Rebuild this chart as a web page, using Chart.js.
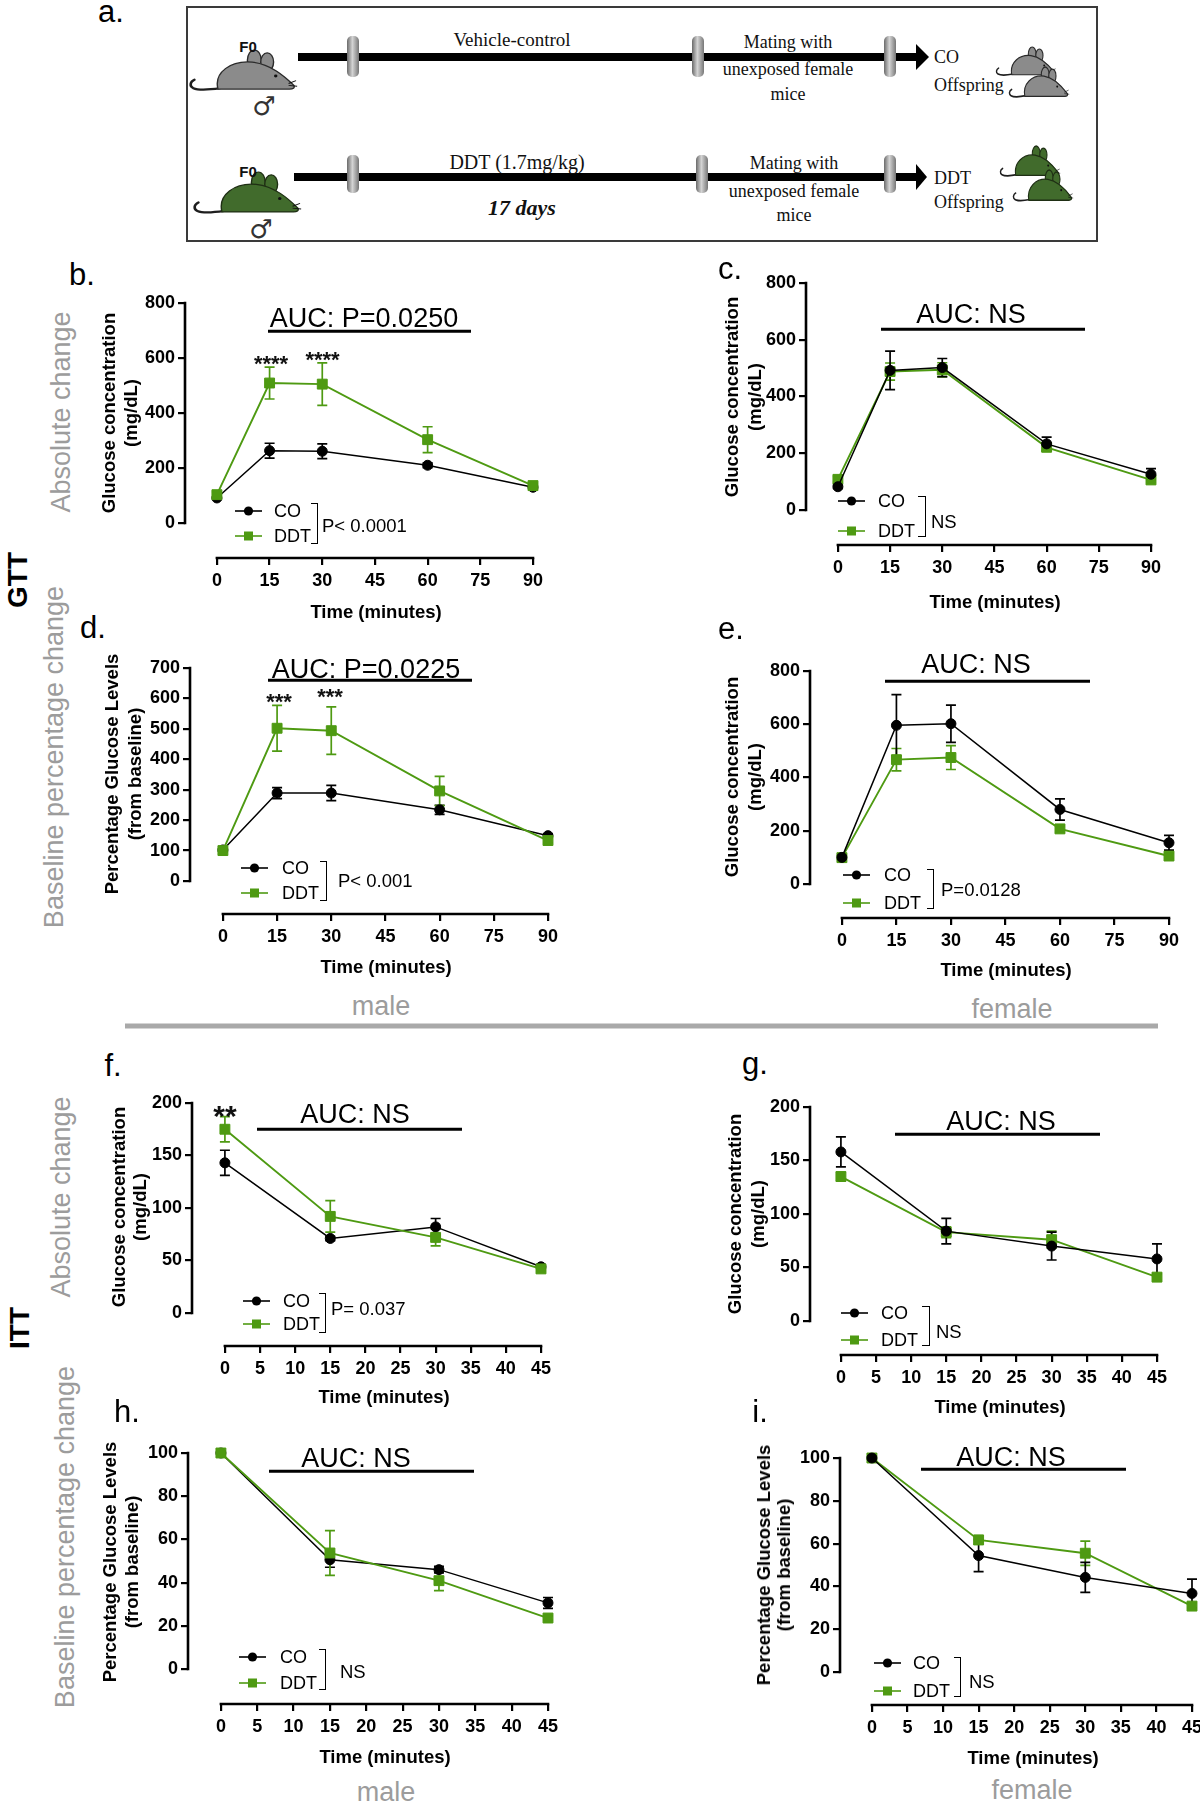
<!DOCTYPE html>
<html><head><meta charset="utf-8">
<script src="https://cdn.jsdelivr.net/npm/chart.js@4.4.1/dist/chart.umd.min.js"></script>
<style>
html,body{margin:0;padding:0;background:#fff;}
body{width:1200px;height:1802px;position:relative;overflow:hidden;font-family:"Liberation Sans",Arial,Helvetica,sans-serif;}
.t{position:absolute;white-space:nowrap;line-height:1;transform:translate(-50%,-50%);color:#000;}
.l{position:absolute;white-space:nowrap;line-height:1;transform:translate(0,-50%);color:#000;}
.r{position:absolute;white-space:nowrap;transform:translate(-50%,-50%) rotate(-90deg);text-align:center;}
canvas{position:absolute;}
</style></head><body>

<svg width="1200" height="250" style="position:absolute;left:0;top:0">
<defs>
<linearGradient id="mk" x1="0" x2="1" y1="0" y2="0">
<stop offset="0" stop-color="#6a6a6a"/><stop offset="0.45" stop-color="#d4d4d4"/><stop offset="1" stop-color="#777"/>
</linearGradient>
<g id="mouse">
<path d="M30 41 C18 43 9 43 5 41 C1 39 2 34 6 32" fill="none" stroke="#1e1e1e" stroke-width="2.4" stroke-linecap="round"/>
<ellipse cx="62" cy="11" rx="6.5" ry="11"/>
<ellipse cx="74" cy="13" rx="6" ry="10"/>
<path d="M28 42 C24 24 40 11 60 13 C77 15 90 28 99 38 C100 41 98 42 95 42 Z"/>
<circle cx="82" cy="28" r="1.6" fill="#111" stroke="none"/>
<path d="M94 36 L101 33 M94 38 L102 39" fill="none" stroke="#111" stroke-width="1"/>
</g>
</defs>
<rect x="187" y="7" width="910" height="234" fill="#fff" stroke="#3a3a3a" stroke-width="2"/>
<rect x="298" y="53" width="620" height="8" fill="#000"/>
<polygon points="916,44 929,57 916,70" fill="#000"/>
<rect x="294" y="173" width="624" height="8" fill="#000"/>
<polygon points="916,164 927,177 916,190" fill="#000"/>
<rect x="347" y="36" width="12" height="41" rx="5" fill="url(#mk)"/>
<rect x="692" y="36" width="12" height="41" rx="5" fill="url(#mk)"/>
<rect x="884" y="36" width="12" height="41" rx="5" fill="url(#mk)"/>
<rect x="347" y="155" width="12" height="38" rx="5" fill="url(#mk)"/>
<rect x="696" y="155" width="12" height="38" rx="5" fill="url(#mk)"/>
<rect x="884" y="155" width="12" height="38" rx="5" fill="url(#mk)"/>
<use href="#mouse" transform="translate(188,50) scale(1.07,0.93)" fill="#8b8b8b" stroke="#2a2a2a" stroke-width="1.3"/>
<use href="#mouse" transform="translate(192,172) scale(1.07,0.95)" fill="#416b2c" stroke="#1f2f14" stroke-width="1.3"/>
<use href="#mouse" transform="translate(995,47) scale(0.6,0.66)" fill="#8b8b8b" stroke="#2a2a2a" stroke-width="1.8"/>
<use href="#mouse" transform="translate(1008,67) scale(0.6,0.7)" fill="#8b8b8b" stroke="#2a2a2a" stroke-width="1.8"/>
<use href="#mouse" transform="translate(999,146) scale(0.6,0.7)" fill="#416b2c" stroke="#1f2f14" stroke-width="1.8"/>
<use href="#mouse" transform="translate(1012,170) scale(0.6,0.72)" fill="#416b2c" stroke="#1f2f14" stroke-width="1.8"/>
<g fill="#111" font-family="Liberation Serif, DejaVu Serif, serif">
<text x="512" y="46" font-size="19" text-anchor="middle">Vehicle-control</text>
<text x="788" y="48" font-size="18" text-anchor="middle">Mating with</text>
<text x="788" y="75" font-size="18" text-anchor="middle">unexposed female</text>
<text x="788" y="100" font-size="18" text-anchor="middle">mice</text>
<text x="934" y="63" font-size="18">CO</text>
<text x="934" y="91" font-size="18">Offspring</text>
<text x="517" y="169" font-size="20" text-anchor="middle">DDT (1.7mg/kg)</text>
<text x="522" y="215" font-size="22" text-anchor="middle" font-weight="bold" font-style="italic">17 days</text>
<text x="794" y="169" font-size="18" text-anchor="middle">Mating with</text>
<text x="794" y="197" font-size="18" text-anchor="middle">unexposed female</text>
<text x="794" y="221" font-size="18" text-anchor="middle">mice</text>
<text x="934" y="184" font-size="18">DDT</text>
<text x="934" y="208" font-size="18">Offspring</text>
</g>
<g font-family="Liberation Sans, Arial, sans-serif" fill="#111">
<text x="248" y="52" font-size="15" text-anchor="middle" font-weight="bold">F0</text>
<text x="248" y="177" font-size="15" text-anchor="middle" font-weight="bold">F0</text>
</g>
<g font-family="DejaVu Sans, sans-serif" fill="#333">
<text x="264" y="115" font-size="26" text-anchor="middle">♂</text>
<text x="261" y="238" font-size="26" text-anchor="middle">♂</text>
</g>
</svg>

<script>
// ---------------- DATA ----------------
const GTT_MINUTES = [0, 15, 30, 60, 90];
const ITT_MINUTES = [0, 15, 30, 45];
const GTT_X_TICKS = [0, 15, 30, 45, 60, 75, 90];
const ITT_X_TICKS = [0, 5, 10, 15, 20, 25, 30, 35, 40, 45];
const Y_TICKS_800 = [0, 200, 400, 600, 800];
const Y_TICKS_700 = [0, 100, 200, 300, 400, 500, 600, 700];
const Y_TICKS_200 = [0, 50, 100, 150, 200];
const Y_TICKS_100 = [0, 20, 40, 60, 80, 100];

// b. GTT male, absolute
const B_CO = [91, 263, 261, 210, 130];
const B_CO_SEM = [5, 27, 27, 9, 7];
const B_DDT = [103, 509, 505, 303, 136];
const B_DDT_SEM = [10, 58, 77, 47, 8];
// c. GTT female, absolute
const C_CO = [82, 492, 502, 233, 126];
const C_CO_SEM = [6, 68, 32, 24, 20];
const C_DDT = [108, 488, 494, 221, 106];
const C_DDT_SEM = [10, 30, 25, 13, 8];
// d. GTT male, % of baseline
const D_CO = [102, 289, 289, 234, 149];
const D_CO_SEM = [4, 18, 25, 15, 6];
const D_DDT = [100, 502, 494, 296, 133];
const D_DDT_SEM = [3, 75, 78, 48, 8];
// e. GTT female
const E_CO = [100, 596, 602, 280, 155];
const E_CO_SEM = [8, 115, 70, 40, 28];
const E_DDT = [99, 467, 475, 207, 105];
const E_DDT_SEM = [6, 42, 45, 12, 10];
// f. ITT male, absolute
const F_CO = [143, 71, 82, 44];
const F_CO_SEM = [12, 2, 8, 2];
const F_DDT = [175, 92, 72, 42];
const F_DDT_SEM = [12, 15, 8, 2];
// g. ITT female, absolute
const G_CO = [158, 84, 70, 58];
const G_CO_SEM = [14, 12, 13, 14];
const G_DDT = [135, 83, 76, 41];
const G_DDT_SEM = [4, 5, 8, 3];
// h. ITT male, % of baseline
const H_CO = [100, 50.6, 46, 30.6];
const H_CO_SEM = [0, 3.5, 1.5, 2.5];
const H_DDT = [100, 53.7, 40.9, 23.6];
const H_DDT_SEM = [0, 10.4, 4.6, 1];
// i. ITT female, % of baseline
const I_CO = [100, 54.4, 44.2, 36.7];
const I_CO_SEM = [0.5, 7.5, 7, 6.7];
const I_DDT = [100, 61.7, 55.5, 30.8];
const I_DDT_SEM = [0.5, 2, 5.7, 1.5];

const SERIES_NAMES = ['CO', 'DDT'];
const GREEN = '#4e9a12';

// ---------------- LAYOUT ----------------
// box: [yAxisX, x0px, xMaxPx, yTopPx, y0px, xAxisY]
const PANELS = [
  {x: GTT_MINUTES, xt: GTT_X_TICKS, yt: Y_TICKS_800, co: B_CO, coE: B_CO_SEM, ddt: B_DDT, ddtE: B_DDT_SEM, coTop: false, box: [185, 217, 534, 303, 523, 558]},
  {x: GTT_MINUTES, xt: GTT_X_TICKS, yt: Y_TICKS_800, co: C_CO, coE: C_CO_SEM, ddt: C_DDT, ddtE: C_DDT_SEM, coTop: true, box: [806, 838, 1152, 283, 510, 545]},
  {x: GTT_MINUTES, xt: GTT_X_TICKS, yt: Y_TICKS_700, co: D_CO, coE: D_CO_SEM, ddt: D_DDT, ddtE: D_DDT_SEM, coTop: false, box: [190, 223, 549, 668, 881, 914]},
  {x: GTT_MINUTES, xt: GTT_X_TICKS, yt: Y_TICKS_800, co: E_CO, coE: E_CO_SEM, ddt: E_DDT, ddtE: E_DDT_SEM, coTop: true, box: [810, 842, 1170, 671, 884, 918]},
  {x: ITT_MINUTES, xt: ITT_X_TICKS, yt: Y_TICKS_200, co: F_CO, coE: F_CO_SEM, ddt: F_DDT, ddtE: F_DDT_SEM, coTop: false, box: [192, 225, 542, 1103, 1313, 1346]},
  {x: ITT_MINUTES, xt: ITT_X_TICKS, yt: Y_TICKS_200, co: G_CO, coE: G_CO_SEM, ddt: G_DDT, ddtE: G_DDT_SEM, coTop: true, box: [810, 841, 1158, 1107, 1321, 1355]},
  {x: ITT_MINUTES, xt: ITT_X_TICKS, yt: Y_TICKS_100, co: H_CO, coE: H_CO_SEM, ddt: H_DDT, ddtE: H_DDT_SEM, coTop: false, box: [188, 221, 549, 1453, 1669, 1704]},
  {x: ITT_MINUTES, xt: ITT_X_TICKS, yt: Y_TICKS_100, co: I_CO, coE: I_CO_SEM, ddt: I_DDT, ddtE: I_DDT_SEM, coTop: true, box: [840, 872, 1193, 1458, 1672, 1705]}
];

Chart.defaults.font.family = '"Liberation Sans", Arial, Helvetica, sans-serif';
Chart.defaults.color = '#000';

const errorBars = {
  id: 'errorBars',
  beforeDatasetsDraw(chart) {
    const {ctx} = chart, xs = chart.scales.x, ys = chart.scales.y;
    const metas = chart.getSortedVisibleDatasetMetas().slice().reverse();
    metas.forEach(meta => {
      const ds = chart.data.datasets[meta.index];
      if (!ds.errors) return;
      ctx.save();
      ctx.strokeStyle = ds.borderColor;
      ctx.lineWidth = 1.7;
      ds.data.forEach((p, j) => {
        const e = ds.errors[j];
        if (!e) return;
        const px = xs.getPixelForValue(p.x);
        const t = ys.getPixelForValue(p.y + e), b = ys.getPixelForValue(p.y - e);
        ctx.beginPath();
        ctx.moveTo(px, t); ctx.lineTo(px, b);
        ctx.moveTo(px - 5, t); ctx.lineTo(px + 5, t);
        ctx.moveTo(px - 5, b); ctx.lineTo(px + 5, b);
        ctx.stroke();
      });
      ctx.restore();
    });
  }
};

const axisLines = {
  id: 'axisLines',
  afterDraw(chart) {
    const {ctx, chartArea} = chart, xs = chart.scales.x, ys = chart.scales.y;
    ctx.save();
    ctx.strokeStyle = '#000';
    ctx.lineWidth = 2.6;
    ctx.lineCap = 'square';
    ctx.beginPath();
    ctx.moveTo(chartArea.left, ys.getPixelForValue(0));
    ctx.lineTo(chartArea.left, ys.getPixelForValue(ys.max));
    ctx.moveTo(xs.getPixelForValue(0), chartArea.bottom);
    ctx.lineTo(xs.getPixelForValue(xs.max), chartArea.bottom);
    ctx.stroke();
    ctx.restore();
  }
};

function xy(xArr, yArr) { return xArr.map((v, i) => ({x: v, y: yArr[i]})); }

function makeChart(p) {
  const [ax, x0, x1, yTop, y0, xb] = p.box;
  const W = 50, H = 40, P = 14;
  const cw = (x1 - ax) + W + 2 * P, ch = (xb - yTop) + H + 2 * P;
  const cv = document.createElement('canvas');
  cv.width = cw; cv.height = ch;
  cv.style.left = (ax - W - P) + 'px';
  cv.style.top = (yTop - P) + 'px';
  cv.style.width = cw + 'px'; cv.style.height = ch + 'px';
  document.body.appendChild(cv);
  const xMax = p.xt[p.xt.length - 1], yMax = p.yt[p.yt.length - 1];
  const a = (x0 - ax) / (x1 - ax), xMin = -a * xMax / (1 - a);
  const b = (xb - y0) / (xb - yTop), yMin = -b * yMax / (1 - b);
  const grid = {drawOnChartArea: false, drawTicks: true, tickLength: 7, color: '#000', lineWidth: 2.2};
  const tickFont = {size: 18, weight: 'bold', lineHeight: 1.2};
  new Chart(cv, {
    type: 'line',
    data: {
      datasets: [
        {label: SERIES_NAMES[0], data: xy(p.x, p.co), errors: p.coE, borderColor: '#000', backgroundColor: '#000',
         borderWidth: 1.5, pointStyle: 'circle', pointRadius: 5, pointBorderWidth: 1, tension: 0, clip: false, order: p.coTop ? 0 : 1},
        {label: SERIES_NAMES[1], data: xy(p.x, p.ddt), errors: p.ddtE, borderColor: GREEN, backgroundColor: GREEN,
         borderWidth: 1.9, pointStyle: 'rect', pointRadius: 7, pointBorderWidth: 1, tension: 0, clip: false, order: p.coTop ? 1 : 0}
      ]
    },
    options: {
      responsive: false, animation: false, events: [],
      layout: {autoPadding: false, padding: P},
      plugins: {legend: {display: false}, tooltip: {enabled: false}},
      scales: {
        x: {type: 'linear', position: 'bottom', min: xMin, max: xMax,
            afterBuildTicks: s => { s.ticks = p.xt.map(v => ({value: v})); },
            afterFit: s => { s.height = H; },
            border: {display: false}, grid: grid,
            ticks: {autoSkip: false, maxRotation: 0, minRotation: 0, padding: 5, color: '#000', font: tickFont}},
        y: {type: 'linear', position: 'left', min: yMin, max: yMax,
            afterBuildTicks: s => { s.ticks = p.yt.map(v => ({value: v})); },
            afterFit: s => { s.width = W; },
            border: {display: false}, grid: grid,
            ticks: {autoSkip: false, padding: 3, color: '#000', font: tickFont}}
      }
    },
    plugins: [errorBars, axisLines]
  });
}
PANELS.forEach(makeChart);

// ---------------- TEXT OVERLAYS ----------------
function el(cls, html, x, y, style) {
  const d = document.createElement('div');
  d.className = cls; d.innerHTML = html;
  d.style.left = x + 'px'; d.style.top = y + 'px';
  if (style) d.style.cssText += style;
  document.body.appendChild(d);
  return d;
}
const GRAY = '#9c9c9c';
// panel letters
[['a.', 111, 11], ['b.', 82, 274], ['c.', 730, 268], ['d.', 93, 627], ['e.', 731, 628],
 ['f.', 113, 1065], ['g.', 755, 1063], ['h.', 127, 1411], ['i.', 760, 1411]]
  .forEach(([t, x, y]) => el('t', t, x, y, 'font-size:31px;'));
// GTT / ITT
el('r', 'GTT', 18, 580, 'font-size:28px;font-weight:bold;line-height:1;');
el('r', 'ITT', 20, 1328, 'font-size:28px;font-weight:bold;line-height:1;');
// gray side / bottom labels
[['Absolute change', 61, 412], ['Baseline percentage change', 54, 757],
 ['Absolute change', 61, 1197], ['Baseline percentage change', 65, 1537]]
  .forEach(([t, x, y]) => el('r', t, x, y, 'font-size:27px;line-height:1;color:' + GRAY + ';'));
[['male', 381, 1006], ['female', 1012, 1009], ['male', 386, 1792], ['female', 1032, 1790]]
  .forEach(([t, x, y]) => el('t', t, x, y, 'font-size:27px;color:' + GRAY + ';'));
// separator
el('l', '', 125, 1026, 'width:1033px;height:5px;background:#a9a9a9;');

// y axis titles
const YT_ABS = 'Glucose concentration<br>(mg/dL)';
const YT_PCT = 'Percentage Glucose Levels<br>(from baseline)';
[[YT_ABS, 120, 413, 22], [YT_ABS, 742.5, 397, 23], [YT_PCT, 123, 774, 22.5], [YT_ABS, 742.5, 777, 23],
 [YT_ABS, 128.5, 1207, 21], [YT_ABS, 745.5, 1214, 23], [YT_PCT, 120, 1562, 21.5], [YT_PCT, 774, 1565, 20]]
  .forEach(([t, x, y, lh]) => el('r', t, x, y, 'font-size:18.5px;font-weight:bold;line-height:' + lh + 'px;'));
// x axis titles
[[376, 612], [995, 602], [386, 967], [1006, 970], [384, 1397], [1000, 1407], [385, 1757], [1033, 1758]]
  .forEach(([x, y]) => el('t', 'Time (minutes)', x, y, 'font-size:18.5px;font-weight:bold;'));

// AUC annotations [text, cx, cy, lineX1, lineX2, lineY]
[['AUC: P=0.0250', 364, 318, 268, 471, 331], ['AUC: NS', 971, 314, 881, 1085, 329],
 ['AUC: P=0.0225', 366, 669, 268, 472, 680], ['AUC: NS', 976, 664, 885, 1090, 681],
 ['AUC: NS', 355, 1114, 257, 462, 1129], ['AUC: NS', 1001, 1121, 895, 1100, 1134],
 ['AUC: NS', 356, 1458, 269, 474, 1471], ['AUC: NS', 1011, 1457, 921, 1126, 1469]]
  .forEach(([t, cx, cy, lx1, lx2, ly]) => {
    el('t', t, cx, cy, 'font-size:27px;');
    el('l', '', lx1, ly, 'width:' + (lx2 - lx1) + 'px;height:2.5px;background:#000;');
  });
// significance stars
[['****', 271, 364, 22], ['****', 322.5, 360, 22], ['***', 279, 702, 22], ['***', 330, 697, 22], ['**', 225, 1116, 30]]
  .forEach(([t, x, y, fs]) => el('t', t, x, y, 'font-size:' + fs + 'px;font-weight:bold;color:#111;'));

// legends [symLeft, textLeft, yCO, yDDT, bracketX, bTop, bBottom, tickLeft, stat, statX, statY]
function symbol(color, shape) {
  const m = shape === 'circle' ? '<circle cx="13.5" cy="7" r="4.6" fill="' + color + '"/>'
                               : '<rect x="9" y="2.5" width="9" height="9" fill="' + color + '"/>';
  return '<svg width="27" height="14" style="display:block"><line x1="0" y1="7" x2="27" y2="7" stroke="' + color + '" stroke-width="1.6"/>' + m + '</svg>';
}
[[235, 274, 511, 536, 318, 503, 544, 311, 'P&lt; 0.0001', 322, 526],
 [838, 878, 501, 531, 926, 496, 537, 918, 'NS', 931, 522],
 [241, 282, 868, 893, 327, 861, 901, 320, 'P&lt; 0.001', 338, 881],
 [843, 884, 875, 903, 934, 869, 909, 927, 'P=0.0128', 941, 890],
 [243, 283, 1301, 1324, 326, 1293, 1333, 319, 'P= 0.037', 331, 1309],
 [841, 881, 1313, 1340, 930, 1306, 1346, 922, 'NS', 936, 1332],
 [239, 280, 1657, 1683, 326, 1649, 1690, 319, 'NS', 340, 1672],
 [874, 913, 1663, 1691, 961, 1657, 1697, 954, 'NS', 969, 1682]]
  .forEach(([sx, tx, yc, yd, bx, bt, bb, tl, st, stx, sty]) => {
    el('l', symbol('#000', 'circle'), sx, yc);
    el('l', symbol(GREEN, 'rect'), sx, yd);
    el('l', SERIES_NAMES[0], tx, yc, 'font-size:18px;');
    el('l', SERIES_NAMES[1], tx, yd, 'font-size:18px;');
    el('l', '', tl, bt, 'transform:none;width:' + (bx - tl) + 'px;height:' + (bb - bt) + 'px;border:1.6px solid #000;border-left:none;box-sizing:border-box;');
    el('l', st, stx, sty, 'font-size:18.5px;');
  });
</script>
</body></html>
